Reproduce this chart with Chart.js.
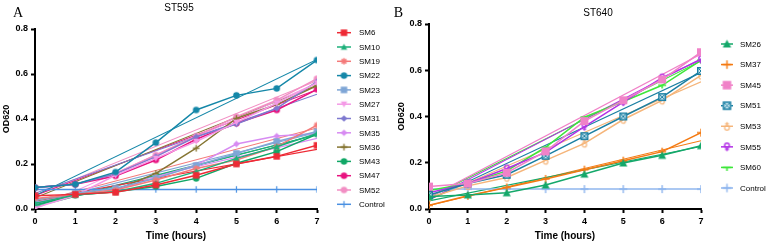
<!DOCTYPE html>
<html><head><meta charset="utf-8">
<script src="https://cdn.jsdelivr.net/npm/chart.js@4.4.1/dist/chart.umd.min.js"></script>
<style>
html,body{margin:0;padding:0;background:#fff;width:767px;height:245px;overflow:hidden}
#wa{position:absolute;left:0;top:0;width:395px;height:245px;z-index:2}
#wb{position:absolute;left:383px;top:0;width:384px;height:245px;z-index:1}
</style></head><body>
<div id="wa"><canvas id="ca" width="395" height="245"></canvas></div>
<div id="wb"><canvas id="cb" width="384" height="245"></canvas></div>
<script>
// ---------- DATA ----------
const hours = [0,1,2,3,4,5,6,7];
const yTickValues = [0,0.2,0.4,0.6,0.8];
const titleA = 'ST595', titleB = 'ST640';
const xTitle = 'Time (hours)', yTitle = 'OD620';

// Panel A (ST595)
const namesA = ['SM6','SM10','SM19','SM22','SM23','SM27','SM31','SM35','SM36','SM43','SM47','SM52','Control'];
const A_SM6  = [0.059,0.065,0.074,0.107,0.150,0.200,0.234,0.283];
const A_SM10 = [0.025,0.062,0.077,0.114,0.166,0.225,0.277,0.336];
const A_SM19 = [0.047,0.065,0.084,0.129,0.180,0.218,0.277,0.373];
const A_SM22 = [0.095,0.110,0.164,0.295,0.440,0.505,0.536,0.662];
const A_SM23 = [0.040,0.070,0.092,0.136,0.193,0.247,0.300,0.344];
const A_SM27 = [0.005,0.060,0.150,0.225,0.300,0.385,0.470,0.560];
const A_SM31 = [0.095,0.110,0.156,0.233,0.321,0.378,0.447,0.566];
const A_SM35 = [0.030,0.062,0.085,0.140,0.195,0.289,0.324,0.335];
const A_SM36 = [0.033,0.062,0.084,0.158,0.270,0.403,0.465,0.548];
const A_SM43 = [0.018,0.062,0.077,0.100,0.136,0.203,0.255,0.333];
const A_SM47 = [0.095,0.110,0.147,0.218,0.310,0.381,0.440,0.532];
const A_SM52 = [0.095,0.110,0.158,0.240,0.324,0.410,0.484,0.579];
const A_Control = [0.087,0.087,0.087,0.087,0.087,0.087,0.087,0.087];
// straight trend lines (value at 0 h and at 7 h), same order as namesA without Control
const fitA_start = [0.040,0.015,0.030,0.060,0.025,0.000,0.070,0.020,0.050,0.010,0.060,0.060];
const fitA_end   = [0.265,0.330,0.360,0.665,0.340,0.560,0.510,0.314,0.550,0.330,0.530,0.570];

// Panel B (ST640)
const namesB = ['SM26','SM37','SM45','SM51','SM53','SM55','SM60','Control'];
const B_SM26 = [0.054,0.061,0.070,0.104,0.151,0.199,0.232,0.274];
const B_SM37 = [0.016,0.057,0.093,0.130,0.170,0.209,0.248,0.330];
const B_SM45 = [0.097,0.110,0.157,0.249,0.380,0.470,0.560,0.678];
const B_SM51 = [0.060,0.110,0.148,0.230,0.315,0.400,0.484,0.597];
const B_SM53 = [0.050,0.100,0.136,0.210,0.284,0.387,0.470,0.578];
const B_SM55 = [0.070,0.110,0.175,0.245,0.356,0.462,0.568,0.646];
const B_SM60 = [0.080,0.110,0.165,0.267,0.397,0.465,0.535,0.643];
const B_Control = [0.086,0.086,0.086,0.086,0.086,0.086,0.086,0.086];
const fitB_start = [0.035,0.015,0.050,0.040,0.040,0.040,0.050];
const fitB_end   = [0.270,0.295,0.670,0.590,0.550,0.650,0.640];

const valuesA = {SM6:A_SM6,SM10:A_SM10,SM19:A_SM19,SM22:A_SM22,SM23:A_SM23,SM27:A_SM27,SM31:A_SM31,SM35:A_SM35,SM36:A_SM36,SM43:A_SM43,SM47:A_SM47,SM52:A_SM52,Control:A_Control};
const valuesB = {SM26:B_SM26,SM37:B_SM37,SM45:B_SM45,SM51:B_SM51,SM53:B_SM53,SM55:B_SM55,SM60:B_SM60,Control:B_Control};

// ---------- STYLES ----------
const styleA = {
  SM6:{c:'#ee2a35',m:'square'}, SM10:{c:'#1db07a',m:'triangle'}, SM19:{c:'#f47a7a',m:'star'},
  SM22:{c:'#1487a8',m:'circle'}, SM23:{c:'#7fa6d6',m:'square'}, SM27:{c:'#f49ae6',m:'triDown'},
  SM31:{c:'#7e79cf',m:'diamond'}, SM35:{c:'#d78bf2',m:'diamond'}, SM36:{c:'#857532',m:'plus'},
  SM43:{c:'#10a766',m:'circle'}, SM47:{c:'#e8127f',m:'circle'}, SM52:{c:'#f28fc4',m:'circle'},
  Control:{c:'#4a90e2',m:'vtick'}
};
const styleB = {
  SM26:{c:'#14a86a',m:'triangle'}, SM37:{c:'#f47a12',m:'plus'}, SM45:{c:'#f082c8',m:'square'},
  SM51:{c:'#1a7fa2',m:'boxX'}, SM53:{c:'#f5b57a',m:'femaleUp'}, SM55:{c:'#b331e6',m:'female'},
  SM60:{c:'#3ee63a',m:'tee'}, Control:{c:'#8fb6ee',m:'plus'}
};
const FONT = 'Arial, "Liberation Sans", sans-serif';

function makeMarker(kind, color, size){
  const W = Math.ceil(size)+4, H = W;
  const cv = document.createElement('canvas'); cv.width=W; cv.height=H;
  const g = cv.getContext('2d'); const cx=W/2, cy=H/2, r=size/2;
  g.fillStyle=color; g.strokeStyle=color; g.lineWidth=1.4;
  g.beginPath();
  switch(kind){
    case 'circle': g.arc(cx,cy,r,0,2*Math.PI); g.fill(); break;
    case 'square': g.fillRect(cx-r,cy-r,2*r,2*r); break;
    case 'triangle': g.moveTo(cx,cy-r); g.lineTo(cx+r,cy+r*0.85); g.lineTo(cx-r,cy+r*0.85); g.closePath(); g.fill(); break;
    case 'triDown': g.moveTo(cx,cy+r); g.lineTo(cx+r,cy-r*0.85); g.lineTo(cx-r,cy-r*0.85); g.closePath(); g.fill(); break;
    case 'diamond': g.moveTo(cx,cy-r); g.lineTo(cx+r,cy); g.lineTo(cx,cy+r); g.lineTo(cx-r,cy); g.closePath(); g.fill(); break;
    case 'star':
      for(let k=0;k<4;k++){const a=k*Math.PI/4; g.moveTo(cx-r*Math.cos(a),cy-r*Math.sin(a)); g.lineTo(cx+r*Math.cos(a),cy+r*Math.sin(a));}
      g.stroke(); g.beginPath(); g.arc(cx,cy,r*0.45,0,2*Math.PI); g.fill(); break;
    case 'plus': g.moveTo(cx-r,cy); g.lineTo(cx+r,cy); g.moveTo(cx,cy-r); g.lineTo(cx,cy+r); g.stroke(); break;
    case 'vtick': g.lineWidth=1.2; g.moveTo(cx,cy-r); g.lineTo(cx,cy+r); g.stroke(); break;
    case 'boxX':
      g.fillStyle='#cfe8f1'; g.fillRect(cx-r,cy-r,2*r,2*r); g.lineWidth=1.5; g.strokeRect(cx-r+0.75,cy-r+0.75,2*r-1.5,2*r-1.5);
      g.beginPath(); g.lineWidth=1; g.moveTo(cx-r*0.6,cy-r*0.6); g.lineTo(cx+r*0.6,cy+r*0.6); g.moveTo(cx+r*0.6,cy-r*0.6); g.lineTo(cx-r*0.6,cy+r*0.6); g.stroke();
      break;
    case 'femaleUp':
      g.lineWidth=1.2; g.arc(cx,cy+r*0.35,r*0.55,0,2*Math.PI); g.stroke();
      g.beginPath(); g.moveTo(cx,cy-r*0.2); g.lineTo(cx,cy-r); g.moveTo(cx-r*0.45,cy-r*0.6); g.lineTo(cx+r*0.45,cy-r*0.6); g.stroke(); break;
    case 'female':
      g.lineWidth=1.4; g.arc(cx,cy-r*0.35,r*0.55,0,2*Math.PI); g.stroke();
      g.beginPath(); g.moveTo(cx,cy+r*0.2); g.lineTo(cx,cy+r); g.moveTo(cx-r*0.45,cy+r*0.6); g.lineTo(cx+r*0.45,cy+r*0.6); g.stroke(); break;
    case 'tee':
      g.lineWidth=1.6; g.moveTo(cx-r,cy); g.lineTo(cx+r,cy); g.moveTo(cx,cy); g.lineTo(cx,cy+r*0.8); g.stroke(); break;
  }
  return cv;
}

function buildDatasets(names, values, styles, fit0, fit7, mSize){
  const ds = [];
  names.forEach((n,i)=>{
    const st = styles[n];
    ds.push({label:n, data:hours.map((h,k)=>({x:h,y:values[n][k]})), borderColor:st.c, backgroundColor:st.c,
      borderWidth:1.5, pointStyle:makeMarker(st.m, st.c, mSize), pointRadius:3, pointHoverRadius:3, order:1, tension:0});
    if(n!=='Control' && fit0[i]!==undefined){
      ds.push({label:n+' fit', data:[{x:hours[0],y:fit0[i]},{x:hours[hours.length-1],y:fit7[i]}], borderColor:st.c,
        borderWidth:1.1, pointRadius:0, order:5});
    }
  });
  return ds;
}

const decorPlugin = {
  id:'decor',
  afterDraw(chart){
    const o = chart.options.plugins.decor; const ctx = chart.ctx;
    ctx.save();
    ctx.fillStyle='#000'; ctx.textAlign='center'; ctx.textBaseline='middle';
    ctx.font='14px "Liberation Serif", "Times New Roman", serif';
    ctx.fillText(o.letter, o.letterX, o.letterY);
    ctx.font='10px '+FONT;
    ctx.fillText(o.title, o.titleX, o.titleY);
    // legend
    ctx.textAlign='left'; ctx.font='8px '+FONT;
    o.names.forEach((n,i)=>{
      const st=o.styles[n]; const y=o.ly0+i*o.ldy;
      ctx.strokeStyle=st.c; ctx.lineWidth=1.5; ctx.beginPath(); ctx.moveTo(o.lx0,y); ctx.lineTo(o.lx1,y); ctx.stroke();
      const mk=makeMarker(st.m, st.c, o.lm);
      ctx.drawImage(mk, (o.lx0+o.lx1)/2-mk.width/2, y-mk.height/2);
      ctx.fillStyle='#000'; ctx.fillText(n, o.ltx, y+0.5);
    });
    ctx.restore();
  }
};

function axisCfg(yWidth){
  return {
    x:{type:'linear', min:hours[0], max:hours[hours.length-1],
      afterBuildTicks:s=>{s.ticks=hours.map(v=>({value:v}));},
      ticks:{font:{family:FONT,size:9,weight:'bold'}, color:'#000', padding:3, maxRotation:0, callback:v=>String(v)},
      grid:{drawOnChartArea:false, drawTicks:true, tickLength:4, tickWidth:2, color:'#000'},
      border:{display:true, color:'#000', width:2},
      title:{display:true, text:xTitle, font:{family:FONT,size:10,weight:'bold'}, color:'#000', padding:{top:2,bottom:3}},
      afterFit:s=>{s.height=36;}
    },
    y:{type:'linear', min:yTickValues[0], max:yTickValues[yTickValues.length-1],
      afterBuildTicks:s=>{s.ticks=yTickValues.map(v=>({value:v}));},
      ticks:{font:{family:FONT,size:9,weight:'bold'}, color:'#000', padding:3, callback:v=>Number(v).toFixed(1)},
      grid:{drawOnChartArea:false, drawTicks:true, tickLength:4, tickWidth:2, color:'#000'},
      border:{display:true, color:'#000', width:2},
      title:{display:true, text:yTitle, font:{family:FONT,size:9,weight:'bold'}, color:'#000', padding:{top:1,bottom:2}},
      afterFit:s=>{s.width=yWidth;}
    }
  };
}

new Chart(document.getElementById('ca'), {
  type:'line',
  data:{datasets:buildDatasets(namesA, valuesA, styleA, fitA_start, fitA_end, 6.5)},
  options:{responsive:false, animation:false, events:[],
    layout:{padding:{top:29,right:78,left:0,bottom:0}},
    scales:axisCfg(35),
    plugins:{legend:{display:false}, tooltip:{enabled:false},
      decor:{letter:'A', letterX:18, letterY:13, title:titleA, titleX:179, titleY:8,
        names:namesA, styles:styleA, lx0:337, lx1:351, lm:6.5, ltx:359, ly0:32.7, ldy:14.3}}
  },
  plugins:[decorPlugin]
});

new Chart(document.getElementById('cb'), {
  type:'line',
  data:{datasets:buildDatasets(namesB, valuesB, styleB, fitB_start, fitB_end, 8)},
  options:{responsive:false, animation:false, events:[],
    layout:{padding:{top:24,right:66,left:12,bottom:0}},
    scales:axisCfg(34),
    plugins:{legend:{display:false}, tooltip:{enabled:false},
      decor:{letter:'B', letterX:15.5, letterY:13, title:titleB, titleX:215, titleY:13,
        names:namesB, styles:styleB, lx0:338, lx1:350, lm:8.5, ltx:357, ly0:44, ldy:20.57}}
  },
  plugins:[decorPlugin]
});
</script>
</body></html>
